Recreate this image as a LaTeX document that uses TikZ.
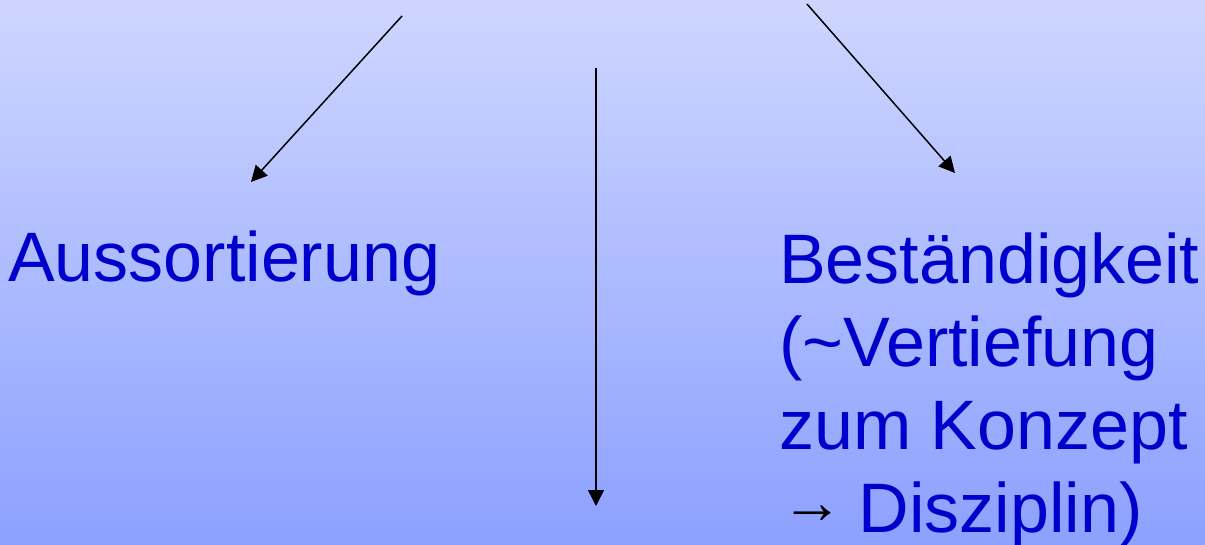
\documentclass[tikz,border=0pt]{standalone}
\usepackage{fontspec}
\setmainfont{Liberation Sans}
\usetikzlibrary{arrows.meta}
\definecolor{bgtop}{RGB}{206,214,255}
\definecolor{bgbot}{RGB}{140,160,255}
\definecolor{txtblue}{RGB}{0,0,204}
\tikzset{
  label text/.style={inner sep=0pt, text=txtblue, font=\fontsize{70}{83}\selectfont},
  connector/.style={draw=black, line width=1.5pt, -{Triangle[width=16pt,length=16pt]}}
}
\begin{document}
\begin{tikzpicture}[x=1pt,y=-1pt]
\useasboundingbox (0,0) rectangle (1205,545);
\shade[top color=bgtop, bottom color=bgbot] (0,0) rectangle (1205,545);
\node[label text, anchor=base west] (auss) at (8,282) {Aussortierung};
\node[label text, anchor=base west, align=left] (best) at (779,532)
  {Beständigkeit\\(\textasciitilde Vertiefung\\zum Konzept\\\hspace*{2pt}{\color{black}\fontsize{62}{62}\selectfont\raisebox{9pt}{→}}\hspace{-4pt} Disziplin)};
\coordinate (lstart) at (402,16);
\coordinate (lend) at (251,182);
\coordinate (mstart) at (596,68);
\coordinate (mend) at (596,506);
\coordinate (rstart) at (807,4);
\coordinate (rend) at (955,173);
\draw[connector] (lstart) -- (lend);
\draw[connector] (mstart) -- (mend);
\draw[connector] (rstart) -- (rend);
\end{tikzpicture}
\end{document}
